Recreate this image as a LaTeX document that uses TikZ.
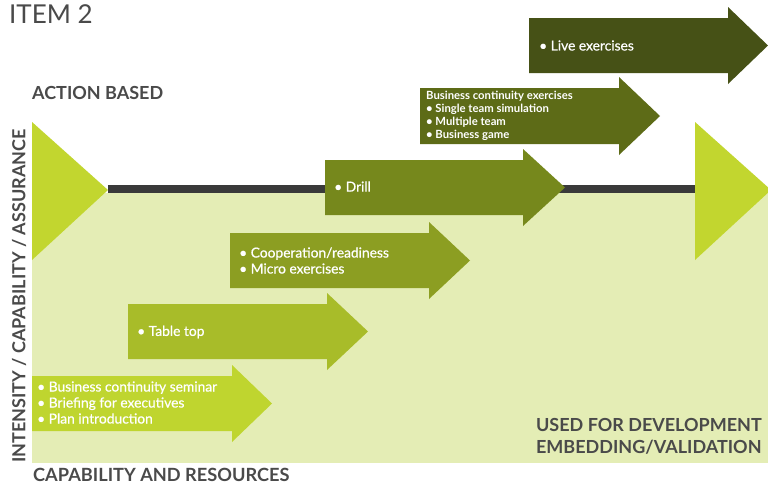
\documentclass[tikz,border=0pt]{standalone}
\usepackage{fontspec}
\setmainfont{Lato}
\newfontfamily\latomed[FakeBold=0.6]{Lato}
\begin{document}
\definecolor{pale}{HTML}{E4EDB5}
\definecolor{lime}{HTML}{C2D62F}
\definecolor{gA}{HTML}{BFD52F}
\definecolor{gB}{HTML}{A8BC29}
\definecolor{gC}{HTML}{8C9E22}
\definecolor{gD}{HTML}{76881C}
\definecolor{gE}{HTML}{5D6B17}
\definecolor{gF}{HTML}{465116}
\definecolor{bar}{HTML}{3A3A3A}
\definecolor{ink}{HTML}{4A4A4A}
\begin{tikzpicture}[x=1pt,y=-1pt,
  heading/.style={font=\bfseries\fontsize{18}{20}\selectfont, text=ink, inner sep=0pt, anchor=west},
  armtext/.style={font=\latomed\fontsize{13.8}{16}\selectfont, text=white, inner sep=0pt, anchor=west, align=left},
  smalltext/.style={font=\bfseries\fontsize{11.3}{13}\selectfont, text=white, inner sep=0pt, anchor=west, align=left}]
% canvas
\useasboundingbox (0,0) rectangle (768,485);
\fill[white] (0,0) rectangle (768,485);
% pale field below the bar
\fill[pale] (32,193) rectangle (768,463);
% horizontal bar
\fill[bar] (108,185) rectangle (695,193);
% start and end triangles
\fill[lime] (32,122) -- (108,190) -- (32,260) -- cycle;
\fill[lime] (695,122) -- (771,190) -- (695,260) -- cycle;
% block arrow: #1 body left, #2 head start, #3 tip, #4 body top, #5 body bottom, #6 colour
\newcommand{\blockarrow}[6]{%
  \fill[#6] (#1,#4) -- (#2,#4) -- (#2,#4-11) -- (#3,{(#4+#5)/2}) -- (#2,#5+11) -- (#2,#5) -- (#1,#5) -- cycle;}
\blockarrow{32}{232}{272}{376}{431}{gA}
\blockarrow{128}{327}{368}{304}{359}{gB}
\blockarrow{230}{429}{470}{233}{288}{gC}
\blockarrow{325}{523}{565}{160}{215}{gD}
\blockarrow{420}{619}{660}{88}{144}{gE}
\blockarrow{529}{728}{768}{18}{73}{gF}
% arrow labels
\node[armtext] (seminar) at (37,402.5) {• Business continuity seminar\\• Briefing for executives\\• Plan introduction};
\node[armtext] (tabletop) at (137,332) {• Table top};
\node[armtext] (coop) at (239,260.5) {• Cooperation/readiness\\• Micro exercises};
\node[armtext] (drill) at (334,186.5) {• Drill};
\node[smalltext] (bce) at (426,116) {Business continuity exercises\\• Single team simulation\\• Multiple team\\• Business game};
\node[armtext] (live) at (539,45.5) {• Live exercises};
% titles and axis labels
\node[font=\fontsize{26}{30}\selectfont, text=ink, inner sep=0pt, anchor=west] (item) at (9,14) {ITEM 2};
\node[heading] (action) at (32,93) {ACTION BASED};
\node[heading, font=\bfseries\fontsize{18.2}{20}\selectfont] (capres) at (33,475) {CAPABILITY AND RESOURCES};
\node[font=\bfseries\fontsize{18}{20}\selectfont, text=ink, inner sep=0pt, rotate=90, anchor=west] (axis) at (19,463) {INTENSITY / CAPABILITY / ASSURANCE};
\node[font=\bfseries\fontsize{18}{22}\selectfont, text=ink, inner sep=0pt, anchor=east, align=left] (used) at (762,436) {USED FOR DEVELOPMENT\\EMBEDDING/VALIDATION};
\end{tikzpicture}
\end{document}
